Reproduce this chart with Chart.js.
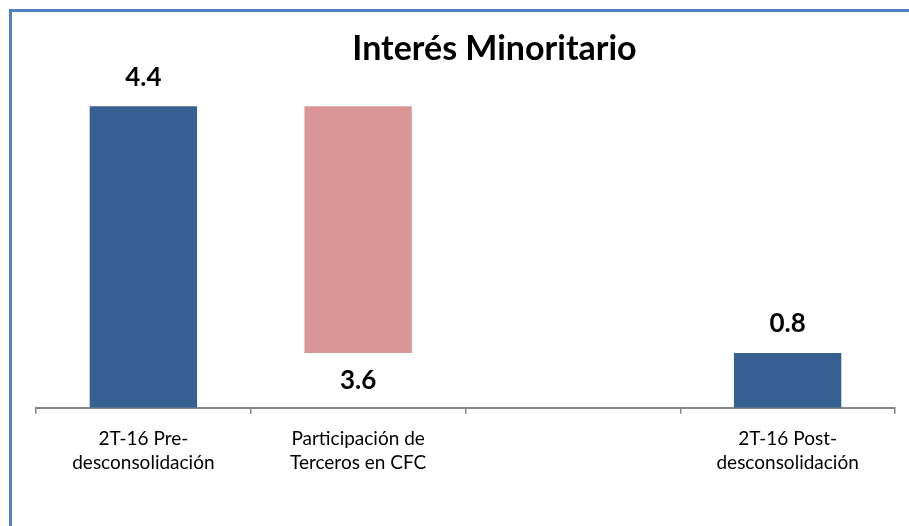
<!DOCTYPE html>
<html lang="es">
<head>
    <meta charset="UTF-8">
    <title>Interés Minoritario</title>
    <script src="https://cdn.jsdelivr.net/npm/chart.js"></script>
    <style>
        html, body {
            margin: 0;
            padding: 0;
            width: 909px;
            height: 526px;
            overflow: hidden;
            background: #fff;
        }
        .frame {
            position: absolute;
            left: 9px;
            top: 9px;
            width: 965px;
            height: 560px;
            border-top: 3px solid #4f81bd;
            border-left: 3px solid #4f81bd;
        }
    </style>
</head>
<body>
    <div class="frame">
        <canvas id="waterfall"></canvas>
    </div>

    <script>
        // waterfall: each bar is [start, end]
        const chartTitle = 'Interés Minoritario';
        const categories = [
            ['2T-16 Pre-', 'desconsolidación'],
            ['Participación de', 'Terceros en CFC'],
            '',
            ['2T-16 Post-', 'desconsolidación']
        ];
        const barStart = [0, 0.8, null, 0];
        const barEnd = [4.4, 4.4, null, 0.8];
        const barLabels = ['4.4', '3.6', '', '0.8'];
        const labelSide = ['top', 'bottom', '', 'top'];
        const barColors = ['#376092', '#d99694', '#376092', '#376092'];

        const FONT = 'Lato, "Open Sans", sans-serif';

        const valueLabels = {
            id: 'valueLabels',
            afterDatasetsDraw(chart) {
                const ctx = chart.ctx;
                const meta = chart.getDatasetMeta(0);
                ctx.save();
                ctx.font = 'bold 26px ' + FONT;
                ctx.fillStyle = '#000';
                ctx.textAlign = 'center';
                ctx.textBaseline = 'middle';
                meta.data.forEach((bar, i) => {
                    if (!barLabels[i]) return;
                    const top = Math.min(bar.y, bar.base);
                    const bottom = Math.max(bar.y, bar.base);
                    const y = labelSide[i] === 'top' ? top - 29 : bottom + 28;
                    ctx.fillText(barLabels[i], bar.x, y);
                });
                ctx.restore();
            }
        };

        // title centred on the whole frame, not on the plot area
        const frameTitle = {
            id: 'frameTitle',
            afterDraw(chart) {
                const ctx = chart.ctx;
                ctx.save();
                ctx.font = 'bold 34px ' + FONT;
                ctx.fillStyle = '#000';
                ctx.textAlign = 'center';
                ctx.textBaseline = 'alphabetic';
                ctx.fillText(chartTitle, chart.width / 2, 48);
                ctx.restore();
            }
        };

        const ctx = document.getElementById('waterfall').getContext('2d');
        new Chart(ctx, {
            type: 'bar',
            data: {
                labels: categories,
                datasets: [{
                    data: barStart.map((s, i) => s === null ? null : [s, barEnd[i]]),
                    backgroundColor: barColors,
                    borderWidth: 0,
                    categoryPercentage: 1,
                    barPercentage: 0.5
                }]
            },
            options: {
                responsive: true,
                maintainAspectRatio: false,
                animation: false,
                layout: {
                    padding: { left: 24, right: 82, top: 53, bottom: 84 }
                },
                scales: {
                    x: {
                        grid: {
                            display: true,
                            drawOnChartArea: false,
                            drawTicks: true,
                            tickLength: 6,
                            color: '#868686',
                            lineWidth: 1.5
                        },
                        border: { display: true, color: '#868686', width: 2 },
                        ticks: {
                            color: '#000',
                            padding: 13,
                            maxRotation: 0,
                            font: { family: FONT, size: 19, lineHeight: 1.27 }
                        }
                    },
                    y: {
                        display: false,
                        min: 0,
                        max: 5
                    }
                },
                plugins: {
                    legend: { display: false },
                    tooltip: { enabled: false },
                    title: { display: false }
                }
            },
            plugins: [valueLabels, frameTitle]
        });
    </script>
</body>
</html>
